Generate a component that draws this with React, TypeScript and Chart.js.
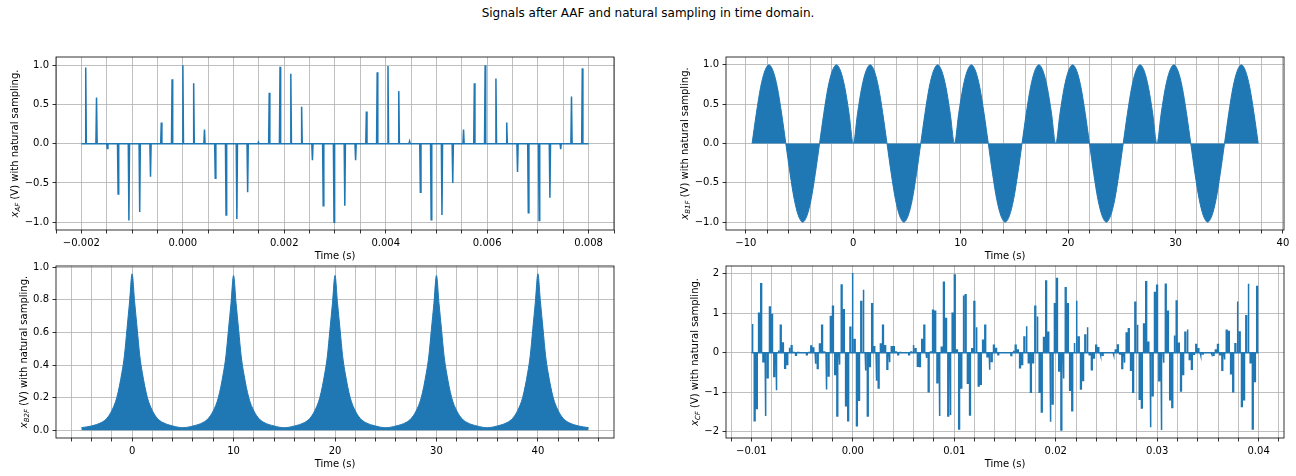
import { useEffect, useRef } from 'react';
import Chart from 'chart.js/auto';

const BLUE = '#1f77b4';
const GRID = '#b0b0b0';
const FONT = 'DejaVu Sans';

// x_AF: spikes of the naturally sampled AAF output
const AF_T0 = -0.001914;
const AF_TS = 0.0002128;
const AF_SPAN = [-0.002, 0.008];
const AF_HEIGHTS = [
  0.97, 0.59, -0.06, -0.64, -0.98, -0.87, -0.42, 0.27, 0.82, 1.0,
  0.77, 0.18, -0.44, -0.91, -0.96, -0.62, 0.02, 0.65, 0.98, 0.89,
  0.47, -0.21, -0.79, -1.0, -0.79, -0.21, 0.41, 0.91, 0.99, 0.67,
  0.03, -0.62, -0.97, -0.91, -0.5, 0.18, 0.77, 1.0, 0.83, 0.27,
  -0.36, -0.88, -0.98, -0.69, -0.07, 0.6, 0.96
];

// x_B1F: envelope of the humps
const B1_ZEROS = [-9.42, -6.28, -3.14, 0, 3.14, 6.28, 9.42, 12.57, 15.71, 18.85, 21.99, 25.13, 28.27, 31.42, 34.56, 37.7];
const B1_SIGNS = [1, -1, 1, 1, -1, 1, 1, -1, 1, 1, -1, 1, 1, -1, 1];
const B1_PROFILE = [0, 0.38, 0.71, 0.92, 1.0, 0.92, 0.71, 0.38, 0];

// x_B2F: peaks and their decay
const B2_PEAKS = [0, 10, 20, 30, 40];
const B2_HEIGHTS = [0.96, 0.95, 0.95, 0.95, 0.96];
const B2_OFFSETS = [0, 0.25, 0.5, 0.75, 1, 1.5, 2, 2.5, 3, 4, 5];
const B2_PROFILE = [1, 0.82, 0.65, 0.48, 0.37, 0.21, 0.125, 0.075, 0.05, 0.027, 0.016];

// x_CF: pulses
const CF_T0 = -0.00993;
const CF_TS = 0.0002144;
const CF_SPAN = [-0.01, 0.04];
const CF_HEIGHTS = [
  0.73, -1.72, -1.41, 1.0, 1.75, -0.23, -1.6, -0.63, 1.16, 0.97,
  -0.6, -0.95, 0.06, 0.7, 0.25, -0.39, -0.3, 0.13, 0.18, 0.01,
  -0.06, 0.01, 0, 0, 0, -0.05, 0.01, 0.17, 0.12, -0.28,
  -0.4, 0.22, 0.7, 0.02, -0.93, -0.59, 0.92, 1.18, -0.55, -1.6,
  -0.3, 1.72, 1.09, -1.34, -1.72, 0.65, 2.02, 0.34, -1.85, -1.2,
  1.3, 1.6, -0.45, -1.6, -0.35, 1.24, 0.15, -0.71, -0.89,
  0.22, 0.7, 0.18, -0.42, -0.24, 0.15, 0.15, 0.02, -0.05, 0.01,
  0, 0, 0, -0.05, 0.02, 0.2, 0.1, -0.34, -0.35, 0.34,
  0.7, -0.13, -0.99, 0.02, 1.08, 1.05, -0.76, -1.6, 0.14, 1.79,
  0.87, -1.6, -1.58, 1.0, 1.97, 0.07, -1.93, -0.89, 1.45, 1.47,
  -0.77, -1.58, 0.1, 1.3, 0.65, -0.84, -0.8, 0.32, 0.7, -0.1,
  -0.43, -0.22, 0.19, 0.11, -0.05, 0, 0, 0, 0, 0,
  -0.07, 0.05, 0.19, 0.07, -0.38, -0.3, 0.4, 0.67, -0.25, -1.0,
  -0.25, 1.18, 0.92, -1.0, -1.5, 0.39, 1.82, 0.52, -1.75, -1.3,
  1.24, 1.88, -0.46, -1.96, -0.65, 1.65, 1.24, -0.95, -1.47, 0.25,
  1.32, 0.4, -0.92, -0.7, 0.45, 0.65, -0.05, -0.43, -0.13, 0.19,
  0.13, -0.06, -0.06, 0, 0, 0, 0, -0.05, 0.07, 0.2,
  -0.03, -0.4, -0.25, 0.5, 0.61, -0.44, -1.0, 1.28, 0.71,
  -1.18, -1.4, 0.73, 1.8, 0.27, -1.89, -1.09, 1.53, 1.71, -0.71,
  -1.96, -0.25, 1.74, 1.05, -1.19, -1.39, 0.44, 1.31, 0.24, -0.97,
  -0.55, 0.52, 0.59, -0.17, -0.42, -0.04, 0.21, 0.1, -0.06, -0.03,
  0, 0, 0, -0.03, -0.06, 0.07, 0.21, -0.05, -0.44, -0.17,
  0.57, 0.54, -0.53, -0.99, 0.23, 1.3, 0.53, -1.36, -1.19, 0.94,
  1.75, -0.25, -1.93, -0.73, 1.68
];

// y tick labels
const Y_UNIT = [-1, -0.5, 0, 0.5, 1];
const Y_B2 = [0, 0.2, 0.4, 0.6, 0.8, 1.0];
const Y_CF = [-2, -1, 0, 1, 2];

const steps = (a: number, b: number, s: number) => {
  const out: number[] = [];
  for (let i = Math.ceil(a / s - 1e-9); i * s <= b + 1e-12; i++) out.push(Number((i * s).toFixed(6)));
  return out;
};
const isMajor = (v: number, m: number) => Math.abs(v / m - Math.round(v / m)) < 1e-6;
const fmt = (v: number, d: number) => (Math.abs(v) < 1e-12 ? 0 : v).toFixed(d).replace('-', '\u2212');

function afPoints() {
  const w = 0.000012;
  const pts = [{ x: AF_SPAN[0], y: 0 }];
  AF_HEIGHTS.forEach((h, i) => {
    const t = AF_T0 + i * AF_TS;
    pts.push({ x: t - w, y: 0 }, { x: t, y: h }, { x: t + w, y: 0 });
  });
  pts.push({ x: AF_SPAN[1], y: 0 });
  return pts;
}

function b1Points() {
  const pts: { x: number; y: number }[] = [];
  const n = B1_PROFILE.length - 1;
  B1_SIGNS.forEach((s, k) => {
    const a = B1_ZEROS[k];
    const b = B1_ZEROS[k + 1];
    B1_PROFILE.forEach((v, j) => {
      if (k > 0 && j === 0) return;
      pts.push({ x: a + ((b - a) * j) / n, y: s * v });
    });
  });
  return pts;
}

function b2Points() {
  const pts: { x: number; y: number }[] = [];
  const offs = [...B2_OFFSETS.slice(1).reverse().map((o) => -o), ...B2_OFFSETS];
  const vals = [...B2_PROFILE.slice(1).reverse(), ...B2_PROFILE];
  B2_PEAKS.forEach((p, k) => {
    offs.forEach((o, j) => {
      if (k > 0 && j === 0) return;
      pts.push({ x: p + o, y: B2_HEIGHTS[k] * vals[j] });
    });
  });
  return pts;
}

function cfPoints() {
  const w = 0.00008;
  const pts = [{ x: CF_SPAN[0], y: 0 }];
  CF_HEIGHTS.forEach((h, i) => {
    const t = CF_T0 + i * CF_TS;
    pts.push({ x: t, y: 0 }, { x: t, y: h }, { x: t + w, y: h }, { x: t + w, y: 0 });
  });
  pts.push({ x: CF_SPAN[1], y: 0 });
  return pts;
}

type Panel = {
  left: number;
  top: number;
  height: number;
  padTop: number;
  padRight: number;
  yWidth: number;
  xMin: number;
  xMax: number;
  xTicks: number[];
  xFmt: (v: number) => string;
  yMin: number;
  yMax: number;
  yTicks: number[];
  yFmt: (v: number) => string;
  sub: string;
  dataset: any;
};

const frame = {
  id: 'frame',
  afterDatasetsDraw(chart: any) {
    const { ctx, chartArea: a } = chart;
    ctx.save();
    ctx.strokeStyle = '#000';
    ctx.lineWidth = 0.8;
    ctx.strokeRect(a.left, a.top, a.right - a.left, a.bottom - a.top);
    ctx.restore();
  }
};

const yTitle = (sub: string) => ({
  id: 'yTitle',
  afterDraw(chart: any) {
    const { ctx, chartArea: a } = chart;
    const ys = chart.scales.y;
    ctx.save();
    ctx.font = `10px "${FONT}"`;
    const maxW = Math.max(...ys.ticks.map((t: any) => ctx.measureText(String(t.label)).width));
    const rest = ' (V) with natural sampling.';
    const w3 = ctx.measureText(rest).width;
    ctx.font = `italic 10px "${FONT}"`;
    const w1 = ctx.measureText('x').width;
    ctx.font = `italic 7px "${FONT}"`;
    const w2 = ctx.measureText(sub).width;
    const cx = a.left - 7 - maxW - 4 - 6;
    const cy = (a.top + a.bottom) / 2;
    ctx.translate(cx, cy);
    ctx.rotate(-Math.PI / 2);
    ctx.fillStyle = '#000';
    ctx.textBaseline = 'alphabetic';
    ctx.textAlign = 'left';
    let x = -(w1 + w2 + w3) / 2;
    const base = 3.5;
    ctx.font = `italic 10px "${FONT}"`;
    ctx.fillText('x', x, base);
    x += w1;
    ctx.font = `italic 7px "${FONT}"`;
    ctx.fillText(sub, x, base + 2);
    x += w2;
    ctx.font = `10px "${FONT}"`;
    ctx.fillText(rest, x, base);
    ctx.restore();
  }
});

const tickFont = { family: FONT, size: 10 };
const gridOpts = { color: GRID, lineWidth: 0.8, drawTicks: true, tickLength: 3.5, tickColor: '#000', tickWidth: 0.8 };

function makeChart(canvas: HTMLCanvasElement, p: Panel) {
  return new Chart(canvas, {
    type: 'line',
    data: { datasets: [p.dataset] },
    plugins: [frame, yTitle(p.sub)],
    options: {
      animation: false,
      responsive: false,
      events: [],
      layout: { padding: { top: p.padTop, right: p.padRight, left: 0, bottom: 0 } },
      plugins: { legend: { display: false }, tooltip: { enabled: false } },
      scales: {
        x: {
          type: 'linear',
          min: p.xMin,
          max: p.xMax,
          afterBuildTicks: (s: any) => {
            s.ticks = p.xTicks.map((value) => ({ value }));
          },
          afterFit: (s: any) => {
            s.height = 35;
          },
          grid: gridOpts,
          border: { display: false },
          ticks: {
            autoSkip: false,
            maxRotation: 0,
            minRotation: 0,
            padding: 3.5,
            color: '#000',
            font: tickFont,
            callback: (v: any) => p.xFmt(Number(v))
          },
          title: { display: true, text: 'Time (s)', color: '#000', font: tickFont, padding: { top: 0, bottom: 3 } }
        },
        y: {
          type: 'linear',
          min: p.yMin,
          max: p.yMax,
          afterBuildTicks: (s: any) => {
            s.ticks = p.yTicks.map((value) => ({ value }));
          },
          afterFit: (s: any) => {
            s.width = p.yWidth;
          },
          grid: gridOpts,
          border: { display: false },
          ticks: {
            autoSkip: false,
            padding: 3.5,
            color: '#000',
            font: tickFont,
            callback: (v: any) => p.yFmt(Number(v))
          }
        }
      }
    } as any
  });
}

const lineSet = (data: any[]) => ({
  data,
  borderColor: BLUE,
  borderWidth: 1.5,
  pointRadius: 0,
  fill: false,
  tension: 0
});

const fillSet = (data: any[]) => ({
  data,
  borderColor: BLUE,
  backgroundColor: BLUE,
  borderWidth: 1,
  pointRadius: 0,
  fill: 'origin',
  cubicInterpolationMode: 'monotone'
});

const W = 648;
const H = 225;

const PANELS: Panel[] = [
  {
    left: 0, top: 40, height: H, padTop: 17, padRight: 34, yWidth: 56,
    xMin: -0.0025, xMax: 0.0085, xTicks: steps(-0.0025, 0.0085, 0.0005),
    xFmt: (v) => (isMajor(v, 0.002) ? fmt(v, 3) : ''),
    yMin: -1.1, yMax: 1.105, yTicks: Y_UNIT, yFmt: (v) => fmt(v, 1),
    sub: 'AF', dataset: lineSet(afPoints())
  },
  {
    left: W, top: 40, height: H, padTop: 17, padRight: 12, yWidth: 78,
    xMin: -11.85, xMax: 40.1, xTicks: steps(-11.85, 40.1, 2),
    xFmt: (v) => (isMajor(v, 10) ? fmt(v, 0) : ''),
    yMin: -1.1, yMax: 1.1, yTicks: Y_UNIT, yFmt: (v) => fmt(v, 1),
    sub: 'B1F', dataset: fillSet(b1Points())
  },
  {
    left: 0, top: 249, height: H - 1, padTop: 17, padRight: 34, yWidth: 56,
    xMin: -7.5, xMax: 47.5, xTicks: steps(-7.5, 47.5, 2),
    xFmt: (v) => (isMajor(v, 10) ? fmt(v, 0) : ''),
    yMin: -0.048, yMax: 1.008, yTicks: Y_B2, yFmt: (v) => fmt(v, 1),
    sub: 'B2F', dataset: fillSet(b2Points())
  },
  {
    left: W, top: 249, height: H - 1, padTop: 17, padRight: 12, yWidth: 78,
    xMin: -0.0125, xMax: 0.0425, xTicks: steps(-0.0125, 0.0425, 0.002),
    xFmt: (v) => (isMajor(v, 0.01) ? fmt(v, 2) : ''),
    yMin: -2.16, yMax: 2.2, yTicks: Y_CF, yFmt: (v) => fmt(v, 0),
    sub: 'CF', dataset: lineSet(cfPoints())
  }
];

export default function App() {
  const refs = useRef<(HTMLCanvasElement | null)[]>([]);

  useEffect(() => {
    const charts = PANELS.map((p, i) => {
      const c = refs.current[i];
      return c ? makeChart(c, p) : null;
    });
    return () => {
      charts.forEach((c) => c && c.destroy());
    };
  }, []);

  return (
    <div style={{ position: 'absolute', left: 0, top: 0, width: 1296, height: 476, background: '#fff', overflow: 'hidden' }}>
      <div
        style={{
          position: 'absolute', left: 0, top: 6, width: 1296, textAlign: 'center',
          fontFamily: FONT, fontSize: 12, lineHeight: '14px', color: '#000'
        }}
      >
        Signals after AAF and natural sampling in time domain.
      </div>
      {PANELS.map((p, i) => (
        <canvas
          key={i}
          ref={(el) => {
            refs.current[i] = el;
          }}
          width={W}
          height={p.height}
          style={{ position: 'absolute', left: p.left, top: p.top, width: W, height: p.height }}
        />
      ))}
    </div>
  );
}
